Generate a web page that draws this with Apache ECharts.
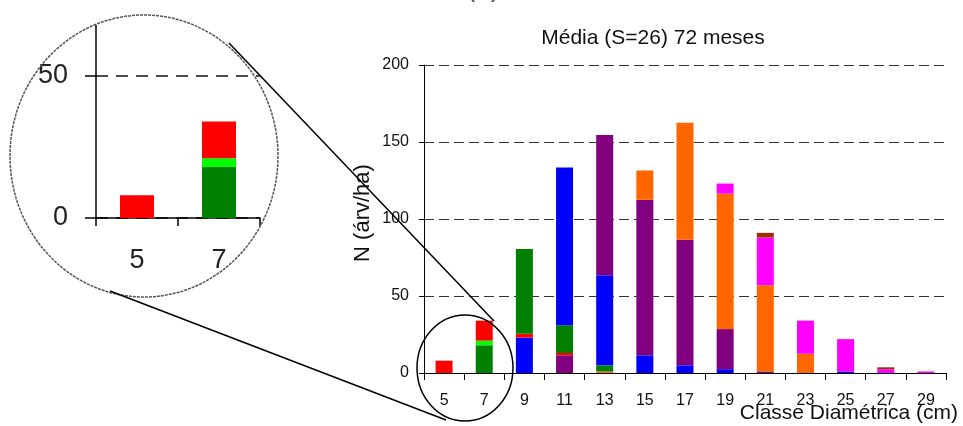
<!DOCTYPE html>
<html><head><meta charset="utf-8">
<script src="https://cdn.jsdelivr.net/npm/echarts@6/dist/echarts.min.js"></script>
<style>html,body{margin:0;padding:0;background:#fff}#c{width:963px;height:426px}</style>
</head><body><div id="c"></div>
<script>
// Diameter classes (cm)
const categories = ['5','7','9','11','13','15','17','19','21','23','25','27','29'];
// Stacked segments (N árv/ha), listed from bottom layer to top layer
const purpleLow  = [0, 0,  0, 11.5, 0,    0,    0,    0,   1,  0,    0,  0,   0];
const orangeLow  = [0, 0,  0, 0,    1,    0,    0,    0,   0,  0,    0,  0,   0];
const greenLow   = [0, 18, 0, 0,    4,    0,    0,    0,   0,  0,    0,  0,   0];
const lime       = [0, 3,  0, 0,    0,    0,    0,    0,   0,  0,    0,  0,   0];
const redLow     = [8, 13, 0, 1.5,  0,    0,    0,    0,   0,  0,    0,  0,   0];
const blueLow    = [0, 0,  23, 0,   58.5, 11.5, 5,    2.5, 0,  0,    1,  0,   0];
const redHigh    = [0, 0,  2.5, 0,  0,    0,    0,    0,   0,  0,    0,  0,   0];
const greenHigh  = [0, 0,  55, 18,  0,    0,    0,    0,   0,  0,    0,  0,   0];
const blueHigh   = [0, 0,  0, 102.5,0,    0,    0,    0,   0,  0,    0,  0,   0];
const purpleHigh = [0, 0,  0, 0,    91,   101,  81.5, 26,  0,  0,    0,  0,   0];
const orangeHigh = [0, 0,  0, 0,    0,    19,   76,   88,  56, 12.5, 0,  0,   0];
const magenta    = [0, 0,  0, 0,    0,    0,    0,    6.5, 31, 21.5, 21, 2.5, 1];
const brown      = [0, 0,  0, 0,    0,    0,    0,    0,   3,  0,    0,  1.2, 0];
const yTickMax = 200, yTickStep = 50;
const insetCategories = categories.slice(0, 2);
const insetMax = 50;

const C = {red:'#FF0000', lime:'#00FF00', green:'#008000', blue:'#0000FF', purple:'#800080', orange:'#FF6600', magenta:'#FF00FF', brown:'#993300'};
const layers = [
  ['Roxo', purpleLow, C.purple], ['Laranja', orangeLow, C.orange], ['Verde', greenLow, C.green],
  ['Verde claro', lime, C.lime], ['Vermelho', redLow, C.red], ['Azul', blueLow, C.blue],
  ['Vermelho ', redHigh, C.red], ['Verde ', greenHigh, C.green], ['Azul ', blueHigh, C.blue],
  ['Roxo ', purpleHigh, C.purple], ['Laranja ', orangeHigh, C.orange], ['Magenta', magenta, C.magenta],
  ['Marrom', brown, C.brown]
];
const insetLayers = [['Verde', greenLow, C.green], ['Verde claro', lime, C.lime], ['Vermelho', redLow, C.red]];
const FONT = 'Liberation Sans, Arial, sans-serif';

const series = layers.map(([n, d, c]) => ({
  name: n, type: 'bar', stack: 'main', xAxisIndex: 0, yAxisIndex: 0,
  barWidth: 17, data: d, itemStyle: {color: c}, silent: true
}));
insetLayers.forEach(([n, d, c], i) => series.push({
  name: n + ' zoom', type: 'bar', stack: 'inset', xAxisIndex: 1, yAxisIndex: 1,
  barWidth: 34, data: d.slice(0, 2), itemStyle: {color: c}, silent: true
}));

const chart = echarts.init(document.getElementById('c'), null, {renderer: 'canvas'});
chart.setOption({
  animation: false,
  backgroundColor: '#fff',
  title: {
    text: 'Média (S=26) 72 meses', left: 653, top: 28, textAlign: 'center', padding: 0,
    textStyle: {fontFamily: FONT, fontSize: 21, fontWeight: 'normal', color: '#111'}
  },
  grid: [
    {left: 424, top: 65, width: 522, height: 308},
    {left: 96, top: 76, width: 164, height: 142}
  ],
  xAxis: [
    {type: 'category', gridIndex: 0, data: categories, boundaryGap: true,
     axisLine: {lineStyle: {color: '#000', width: 1}},
     axisTick: {show: true, length: 7, inside: false, lineStyle: {color: '#000'}},
     axisLabel: {margin: 20, fontSize: 16, color: '#111', fontFamily: FONT, interval: 0},
     splitLine: {show: false}},
    {type: 'category', gridIndex: 1, data: insetCategories, boundaryGap: true,
     axisLine: {lineStyle: {color: '#000', width: 1.5}},
     axisTick: {show: true, length: 8, lineStyle: {color: '#000', width: 1.5}},
     axisLabel: {margin: 29, fontSize: 27, color: '#222', fontFamily: FONT},
     splitLine: {show: false}}
  ],
  yAxis: [
    {type: 'value', gridIndex: 0, min: 0, max: yTickMax, interval: yTickStep,
     axisLine: {show: true, lineStyle: {color: '#000', width: 1}},
     axisTick: {show: true, length: 5, lineStyle: {color: '#000'}},
     axisLabel: {margin: 15, fontSize: 16, color: '#111', fontFamily: FONT},
     splitLine: {show: true, lineStyle: {color: '#333', width: 1, type: [10, 5]}}},
    {type: 'value', gridIndex: 1, min: 0, max: insetMax, interval: insetMax,
     axisLine: {show: true, lineStyle: {color: '#000', width: 1.5}},
     axisTick: {show: true, length: 11, lineStyle: {color: '#000', width: 1.5}},
     axisLabel: {margin: 28, fontSize: 27, color: '#222', fontFamily: FONT},
     splitLine: {show: true, lineStyle: {color: '#111', width: 1.5, type: [12, 8]}}}
  ],
  series: series,
  graphic: [
    {type: 'line', z: 100, shape: {x1: 96, y1: 25, x2: 96, y2: 76}, style: {stroke: '#000', lineWidth: 1.5}},
    {type: 'ellipse', z: 100, shape: {cx: 144, cy: 156, rx: 134, ry: 141}, style: {fill: 'none', stroke: '#555', lineWidth: 1.5, lineDash: [3, 1]}},
    {type: 'ellipse', z: 100, shape: {cx: 465, cy: 368, rx: 48, ry: 53}, style: {fill: 'none', stroke: '#000', lineWidth: 1.5}},
    {type: 'line', z: 100, shape: {x1: 229, y1: 43, x2: 494, y2: 321}, style: {stroke: '#000', lineWidth: 1.5}},
    {type: 'line', z: 100, shape: {x1: 110, y1: 291, x2: 446, y2: 420}, style: {stroke: '#000', lineWidth: 1.5}},
    {type: 'text', z: 100, x: 363, y: 213, rotation: Math.PI / 2, style: {text: 'N (árv/ha)', x: 0, y: 0, align: 'center', verticalAlign: 'middle', font: '22px ' + FONT, fill: '#111'}},
    {type: 'text', z: 100, style: {text: 'Classe Diamétrica (cm)', x: 958, y: 413, align: 'right', verticalAlign: 'middle', font: '21px ' + FONT, fill: '#111'}},
    {type: 'text', z: 100, style: {text: '(b)', x: 483, y: 2, align: 'center', verticalAlign: 'bottom', font: '28px ' + FONT, fill: '#555'}}
  ]
});
</script></body></html>
